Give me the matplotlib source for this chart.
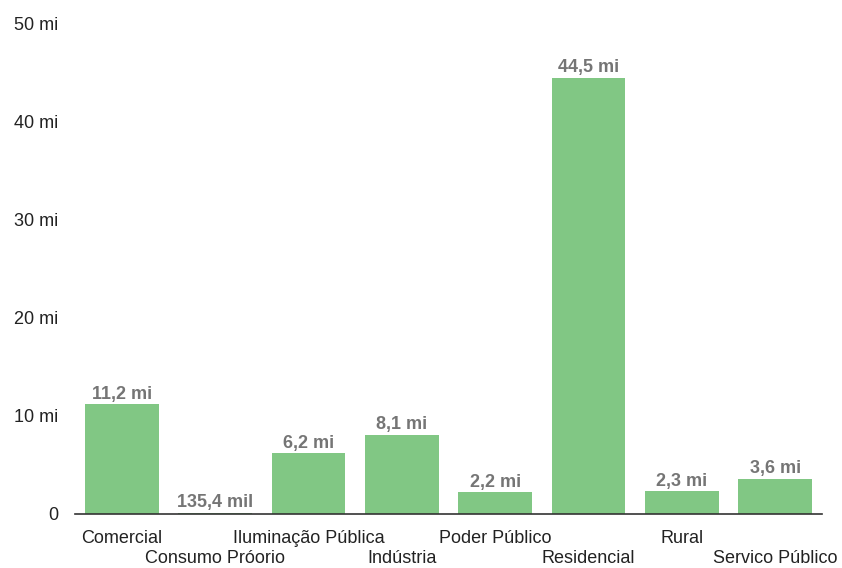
import matplotlib
matplotlib.use("Agg")
import matplotlib.pyplot as plt

# Consumo por classe (milhões)
classes = ["Comercial", "Consumo Próorio", "Iluminação Pública", "Indústria",
           "Poder Público", "Residencial", "Rural", "Servico Público"]
valores = [11.2, 0.1354, 6.2, 8.1, 2.2, 44.5, 2.3, 3.6]
rotulos = ["11,2 mi", "135,4 mil", "6,2 mi", "8,1 mi", "2,2 mi", "44,5 mi", "2,3 mi", "3,6 mi"]
yticks = [0, 10, 20, 30, 40, 50]
yticklabels = ["0", "10 mi", "20 mi", "30 mi", "40 mi", "50 mi"]

plt.rcParams["font.family"] = ["Liberation Sans", "DejaVu Sans"]

fig = plt.figure(figsize=(8.42, 5.68), dpi=100)
ax = fig.add_axes([75 / 842, 54 / 568, 747 / 842, 490 / 568])

x = list(range(len(classes)))
ax.bar(x, valores, width=0.79, color="#81c784", zorder=2)

for xi, v, r in zip(x, valores, rotulos):
    ax.text(xi, v + 0.15, r, ha="center", va="bottom", fontsize=13,
            fontweight="bold", color="#757575")

ax.set_xlim(-0.5, len(classes) - 0.5)
ax.set_ylim(0, 50)
ax.set_yticks(yticks)
ax.set_yticklabels(yticklabels, fontsize=13, color="#222222")
ax.set_xticks(x)
ax.set_xticklabels(classes, fontsize=13, color="#222222")
ax.tick_params(axis="both", length=0)
ax.tick_params(axis="y", pad=12)

# rótulos alternados em duas linhas
for i, tick in enumerate(ax.xaxis.get_major_ticks()):
    tick.set_pad(11.5 if i % 2 == 0 else 26)

for s in ["top", "right", "left"]:
    ax.spines[s].set_visible(False)
ax.spines["bottom"].set_color("#333333")
ax.spines["bottom"].set_linewidth(1.2)
ax.spines["bottom"].set_zorder(3)

fig.savefig("out.png", dpi=100)
